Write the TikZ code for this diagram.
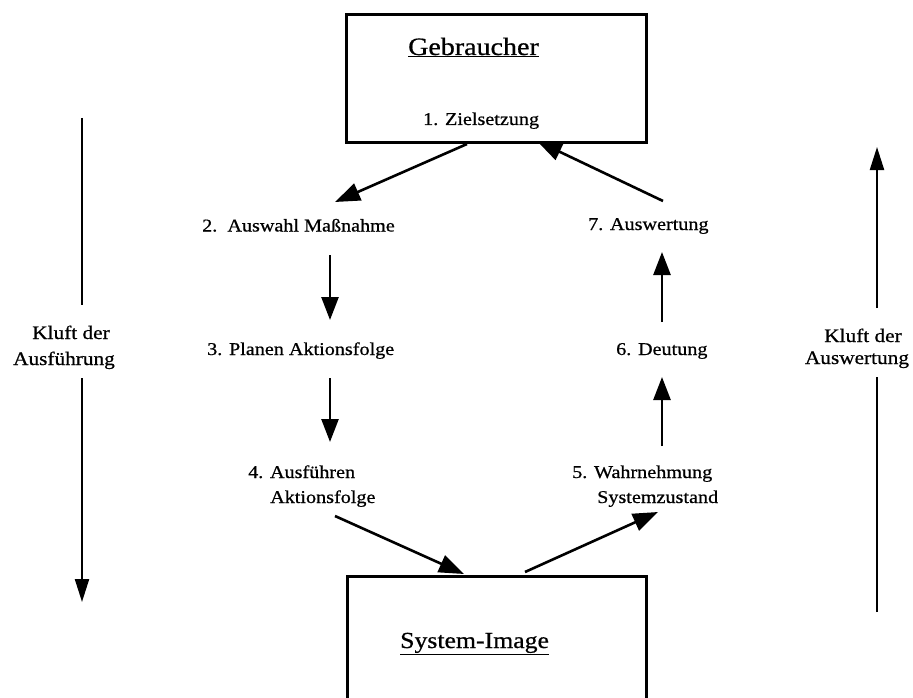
\documentclass[tikz,border=0pt]{standalone}
\usepackage{fontspec}
\setmainfont{Liberation Serif}[FakeStretch=1.12,FakeBold=0.7]
\usetikzlibrary{arrows.meta}
\begin{document}
\begin{tikzpicture}[x=1pt,y=-1pt,
  lbl/.style={inner sep=0pt, anchor=base west, font=\fontsize{18}{22}\selectfont},
  gap/.style={inner sep=0pt, anchor=base, font=\fontsize{19}{23}\selectfont},
  frame/.style={draw, line width=3pt, inner sep=0pt, anchor=north west},
  conn/.style={line width=2.6pt, -{Triangle[length=25pt,width=18pt]}},
  vconn/.style={line width=2.6pt, -{Triangle[length=23pt,width=17pt]}},
  gapline/.style={line width=2.2pt},
  gaparrow/.style={line width=2.2pt, -{Triangle[length=23pt,width=14pt]}}]
\useasboundingbox (0,0) rectangle (913,698);
\clip (0,0) rectangle (913,698);

% the two boxes
\node[frame, minimum width=300pt, minimum height=128pt] (user) at (345,13) {};
\node[frame, minimum width=299pt, minimum height=160pt] (sys) at (346,575) {};

\node[lbl, font=\fontsize{25}{30}\selectfont] (gebr) at (408,55) {\underline{Gebraucher}};
\node[lbl] (ziel) at (423,125) {1. Zielsetzung};
\node[lbl, font=\fontsize{23}{28}\selectfont] (simg) at (400,648) {\underline{System-Image}};

% stages of the cycle
\node[lbl] (s2) at (202,231.5) {2.\ \ Auswahl Maßnahme};
\node[lbl] (s7) at (588,230) {7. Auswertung};
\node[lbl] (s3) at (207,355) {3. Planen Aktionsfolge};
\node[lbl] (s6) at (616,355) {6. Deutung};
\node[lbl] (s4) at (248,478) {4. Ausführen};
\node[lbl] (s4b) at (270,503) {Aktionsfolge};
\node[lbl] (s5) at (572,478) {5. Wahrnehmung};
\node[lbl] (s5b) at (597,503) {Systemzustand};

% gulf labels
\node[gap] (kl1) at (71,339) {Kluft der};
\node[gap] (kl2) at (64,365) {Ausführung};
\node[gap] (kr1) at (863,342) {Kluft der};
\node[gap] (kr2) at (857,364) {Auswertung};

% connector end points
\coordinate (a1s) at (467,144);  \coordinate (a1e) at (335,202);
\coordinate (a2s) at (663,201);  \coordinate (a2e) at (537,141);
\coordinate (a3s) at (330,255);  \coordinate (a3e) at (330,320);
\coordinate (a4s) at (330,378);  \coordinate (a4e) at (330,442);
\coordinate (a5s) at (335,516);  \coordinate (a5e) at (464,574);
\coordinate (a6s) at (525,572);  \coordinate (a6e) at (658,512);
\coordinate (a7s) at (662,446);  \coordinate (a7e) at (662,377);
\coordinate (a8s) at (662,322);  \coordinate (a8e) at (662,252);
\coordinate (g1a) at (82,118);   \coordinate (g1b) at (82,305);
\coordinate (g1c) at (82,378);   \coordinate (g1d) at (82,602);
\coordinate (g2a) at (877,612);  \coordinate (g2b) at (877,377);
\coordinate (g2c) at (877,308);  \coordinate (g2d) at (877,147);

\draw[conn] (a1s) -- (a1e);
\draw[conn] (a2s) -- (a2e);
\draw[vconn] (a3s) -- (a3e);
\draw[vconn] (a4s) -- (a4e);
\draw[conn] (a5s) -- (a5e);
\draw[conn] (a6s) -- (a6e);
\draw[vconn] (a7s) -- (a7e);
\draw[vconn] (a8s) -- (a8e);

\draw[gapline] (g1a) -- (g1b);
\draw[gaparrow] (g1c) -- (g1d);
\draw[gapline] (g2a) -- (g2b);
\draw[gaparrow] (g2c) -- (g2d);
\end{tikzpicture}
\end{document}
